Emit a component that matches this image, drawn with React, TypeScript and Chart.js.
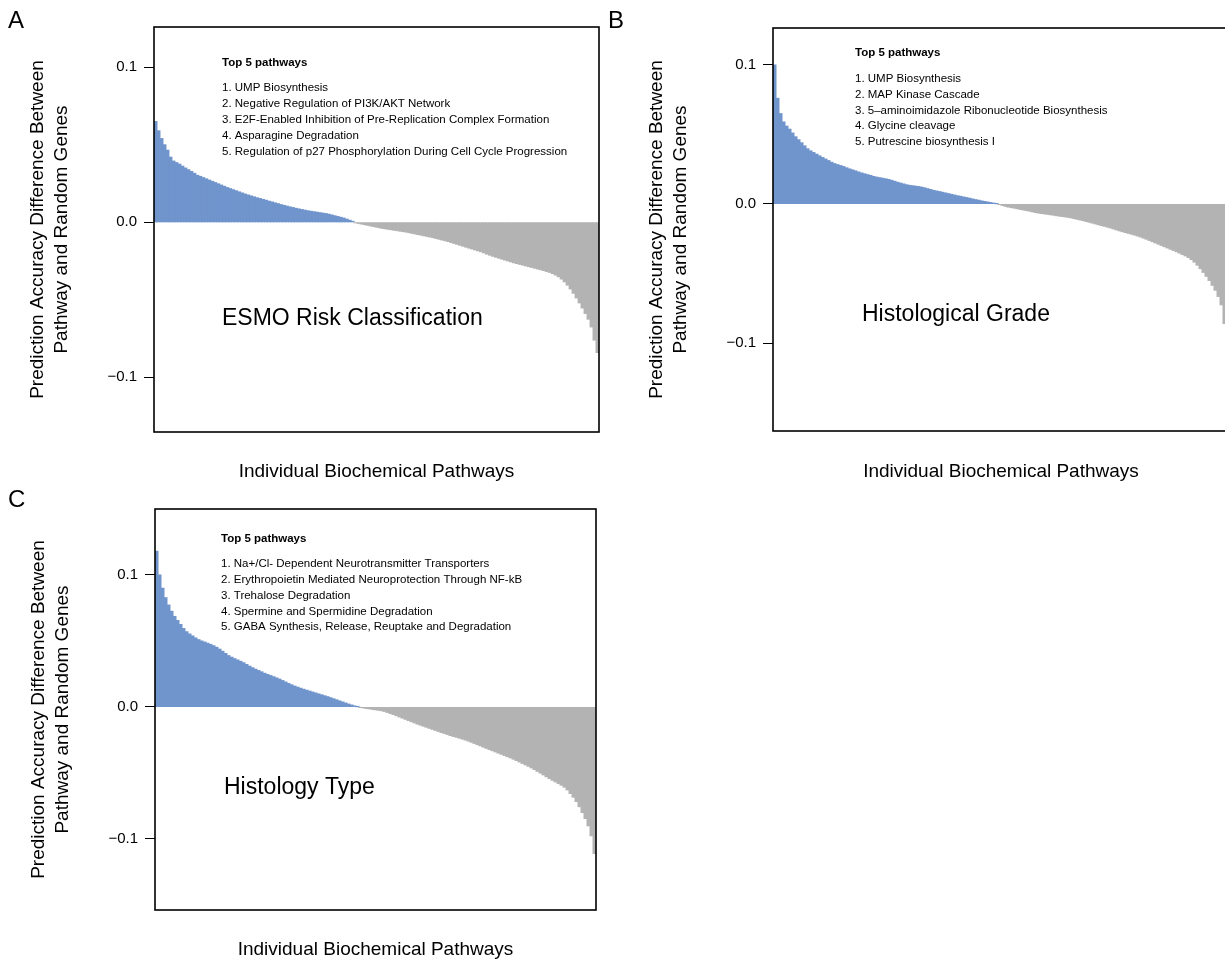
import React, { useEffect, useRef } from "react";
import { Chart, registerables } from "chart.js";

Chart.register(...registerables);

const FONT = '"Liberation Sans", Arial, Helvetica, sans-serif';
const BLUE = "#7094cc";
const GRAY = "#b3b3b3";

const Y_TITLE = ["Prediction Accuracy Difference Between", "Pathway and Random Genes"];
const X_TITLE = "Individual Biochemical Pathways";
const TOP_HEADER = "Top 5 pathways";
const TICK_VALUES = [-0.1, 0, 0.1];

// Panel A
const ESMO_TITLE = "ESMO Risk Classification";
const ESMO_TOP5 = [
  "UMP Biosynthesis",
  "Negative Regulation of PI3K/AKT Network",
  "E2F-Enabled Inhibition of Pre-Replication Complex Formation",
  "Asparagine Degradation",
  "Regulation of p27 Phosphorylation During Cell Cycle Progression",
];
const ESMO_VALUES = [
  0.065, 0.059, 0.054, 0.05, 0.0465, 0.042, 0.0395, 0.0385, 0.0375, 0.0362,
  0.035, 0.0339, 0.0328, 0.0316, 0.0303, 0.0296, 0.0288, 0.028, 0.0272, 0.0264,
  0.0256, 0.0248, 0.024, 0.0232, 0.0224, 0.0217, 0.021, 0.0203, 0.0196, 0.0189,
  0.0182, 0.0176, 0.017, 0.0164, 0.0158, 0.0153, 0.0147, 0.0142, 0.0136, 0.0131,
  0.0125, 0.012, 0.0114, 0.0109, 0.0104, 0.0099, 0.0095, 0.009, 0.0086, 0.0082,
  0.0078, 0.0074, 0.0071, 0.0068, 0.0065, 0.0062, 0.0059, 0.0056, 0.0052, 0.0047,
  0.0042, 0.0037, 0.0032, 0.0027, 0.002, 0.0013, 0.0006,
  -0.0003, -0.0007, -0.0011, -0.0015, -0.0019, -0.0023, -0.0027, -0.0031, -0.0035, -0.0039,
  -0.0042, -0.0045, -0.0048, -0.0051, -0.0054, -0.0057, -0.006, -0.0063, -0.0067, -0.0071,
  -0.0075, -0.0079, -0.0083, -0.0087, -0.0091, -0.0095, -0.0099, -0.0104, -0.0109, -0.0114,
  -0.0119, -0.0124, -0.013, -0.0136, -0.0142, -0.0148, -0.0154, -0.016, -0.0166, -0.0172,
  -0.0178, -0.0184, -0.019, -0.0197, -0.0205, -0.0212, -0.0219, -0.0225, -0.0231, -0.0237,
  -0.0243, -0.0249, -0.0255, -0.0261, -0.0266, -0.0271, -0.0276, -0.0281, -0.0286, -0.0291,
  -0.0296, -0.0301, -0.0306, -0.0311, -0.0317, -0.0323, -0.0331, -0.034, -0.0351, -0.0366,
  -0.0384, -0.0405, -0.043, -0.0458, -0.0488, -0.052, -0.0553, -0.0588, -0.0625, -0.0675,
  -0.076, -0.084,
];

// Panel B
const GRADE_TITLE = "Histological Grade";
const GRADE_TOP5 = [
  "UMP Biosynthesis",
  "MAP Kinase Cascade",
  "5\u2013aminoimidazole Ribonucleotide Biosynthesis",
  "Glycine cleavage",
  "Putrescine biosynthesis I",
];
const GRADE_VALUES = [
  0.1, 0.076, 0.065, 0.059, 0.056, 0.0538, 0.051, 0.0483, 0.0462, 0.044,
  0.0418, 0.0397, 0.0382, 0.037, 0.0358, 0.0346, 0.0334, 0.0323, 0.0312, 0.03,
  0.029, 0.0283, 0.0276, 0.0269, 0.026, 0.0252, 0.0245, 0.0238, 0.023, 0.0223,
  0.0217, 0.0211, 0.0205, 0.0198, 0.0193, 0.0189, 0.0185, 0.0181, 0.0176, 0.017,
  0.0163, 0.0156, 0.015, 0.0144, 0.0138, 0.0134, 0.0131, 0.0128, 0.0125, 0.0121,
  0.0116, 0.011, 0.0104, 0.0098, 0.0093, 0.0089, 0.0084, 0.0079, 0.0074, 0.0069,
  0.0064, 0.0059, 0.0055, 0.005, 0.0046, 0.0041, 0.0036, 0.0031, 0.0027, 0.0022,
  0.0018, 0.0014, 0.001, 0.0006, 0.0002,
  -0.0004, -0.001, -0.0017, -0.0022, -0.0026, -0.003, -0.0034, -0.0039, -0.0043, -0.0047,
  -0.0051, -0.0056, -0.0061, -0.0065, -0.0068, -0.0071, -0.0074, -0.0077, -0.008, -0.0084,
  -0.0087, -0.009, -0.0093, -0.0096, -0.01, -0.0105, -0.011, -0.0115, -0.012, -0.0126,
  -0.0131, -0.0137, -0.0143, -0.0149, -0.0155, -0.016, -0.0166, -0.0172, -0.0179, -0.0186,
  -0.0193, -0.0199, -0.0205, -0.0211, -0.0217, -0.0223, -0.023, -0.0237, -0.0245, -0.0253,
  -0.0262, -0.0271, -0.028, -0.0289, -0.0298, -0.0307, -0.0316, -0.0325, -0.0334, -0.0343,
  -0.0353, -0.0363, -0.0373, -0.0385, -0.04, -0.0418, -0.044, -0.0465, -0.0492, -0.052,
  -0.055, -0.0585, -0.062, -0.0665, -0.0725, -0.086, -0.105,
];

// Panel C
const TYPE_TITLE = "Histology Type";
const TYPE_TOP5 = [
  "Na+/Cl- Dependent Neurotransmitter Transporters",
  "Erythropoietin Mediated Neuroprotection Through NF-kB",
  "Trehalose Degradation",
  "Spermine and Spermidine Degradation",
  "GABA Synthesis, Release, Reuptake and Degradation",
];
const TYPE_VALUES = [
  0.118, 0.1, 0.09, 0.0828, 0.0772, 0.0725, 0.0686, 0.0655, 0.0625, 0.0594,
  0.057, 0.0553, 0.0538, 0.0523, 0.051, 0.05, 0.0492, 0.0483, 0.0474, 0.0464,
  0.0452, 0.0438, 0.0422, 0.0405, 0.0389, 0.0377, 0.0366, 0.0356, 0.0346, 0.0335,
  0.0322, 0.0309, 0.0297, 0.0286, 0.0276, 0.0266, 0.0255, 0.0246, 0.0238, 0.0229,
  0.022, 0.0211, 0.02, 0.0189, 0.0178, 0.0168, 0.0158, 0.015, 0.0142, 0.0134,
  0.0127, 0.012, 0.0113, 0.0106, 0.0099, 0.0092, 0.0085, 0.0078, 0.007, 0.0062,
  0.0054, 0.0046, 0.0038, 0.003, 0.0022, 0.0015, 0.0008, 0.0002,
  -0.0003, -0.0007, -0.0011, -0.0014, -0.0018, -0.0021, -0.0024, -0.0028, -0.0033, -0.0041,
  -0.0049, -0.0057, -0.0066, -0.0075, -0.0084, -0.0093, -0.0102, -0.0111, -0.012, -0.0129,
  -0.0137, -0.0145, -0.0153, -0.0161, -0.0169, -0.0177, -0.0185, -0.0193, -0.02, -0.0208,
  -0.0216, -0.0223, -0.0229, -0.0236, -0.0243, -0.025, -0.0258, -0.0267, -0.0276, -0.0285,
  -0.0294, -0.0304, -0.0313, -0.0322, -0.0331, -0.034, -0.0349, -0.0358, -0.0367, -0.0376,
  -0.0385, -0.0395, -0.0405, -0.0416, -0.0427, -0.0438, -0.0449, -0.0461, -0.0474, -0.0487,
  -0.05, -0.0514, -0.0528, -0.0542, -0.0555, -0.0567, -0.0579, -0.0592, -0.0607, -0.0628,
  -0.0655, -0.0683, -0.0716, -0.0755, -0.08, -0.0845, -0.09, -0.0975, -0.111,
];

// Layout (page pixel coordinates)
const CW = 1260;
const CH = 964;
const Y_AXIS_W = 154;
const X_AXIS_H = 60;

type PanelCfg = {
  letter: string;
  values: number[];
  title: string;
  top5: string[];
  box: { l: number; t: number; r: number; b: number };
  yMin: number;
  yMax: number;
  letterPos: [number, number];
  textX: number;
  headerY: number;
  itemsY: number;
  itemStep: number;
  bigPos: [number, number];
  xTitleY: number;
};

const PANELS: PanelCfg[] = [
  {
    letter: "A", values: ESMO_VALUES, title: ESMO_TITLE, top5: ESMO_TOP5,
    box: { l: 154, t: 27, r: 599, b: 432 }, yMin: -0.1353, yMax: 0.126,
    letterPos: [8, 28], textX: 222, headerY: 63, itemsY: 88.3, itemStep: 15.85,
    bigPos: [222, 319], xTitleY: 472,
  },
  {
    letter: "B", values: GRADE_VALUES, title: GRADE_TITLE, top5: GRADE_TOP5,
    box: { l: 773, t: 28, r: 1229, b: 431 }, yMin: -0.1633, yMax: 0.1266,
    letterPos: [608, 28], textX: 855, headerY: 53.3, itemsY: 79.3, itemStep: 15.6,
    bigPos: [862, 315], xTitleY: 472,
  },
  {
    letter: "C", values: TYPE_VALUES, title: TYPE_TITLE, top5: TYPE_TOP5,
    box: { l: 155, t: 509, r: 596, b: 910 }, yMin: -0.1538, yMax: 0.15,
    letterPos: [8, 507], textX: 221, headerY: 538.5, itemsY: 564, itemStep: 15.8,
    bigPos: [224, 788], xTitleY: 950,
  },
];

const annotPlugin = {
  id: "annot",
  afterDraw(chart: any, _args: any, opts: any) {
    const { ctx, chartArea } = chart;
    const p: PanelCfg = opts.panel;
    ctx.save();
    ctx.lineWidth = 1.6;
    ctx.strokeStyle = "#000";
    ctx.strokeRect(chartArea.left, chartArea.top, chartArea.right - chartArea.left, chartArea.bottom - chartArea.top);
    ctx.fillStyle = "#000";
    ctx.textAlign = "left";
    ctx.textBaseline = "alphabetic";
    ctx.font = `24px ${FONT}`;
    ctx.fillText(p.letter, p.letterPos[0], p.letterPos[1]);
    ctx.textBaseline = "middle";
    ctx.font = `bold 11.5px ${FONT}`;
    ctx.fillText(TOP_HEADER, p.textX, p.headerY);
    ctx.font = `11.5px ${FONT}`;
    p.top5.forEach((t, i) => ctx.fillText(`${i + 1}. ${t}`, p.textX, p.itemsY + i * p.itemStep));
    ctx.font = `23px ${FONT}`;
    ctx.fillText(p.title, p.bigPos[0], p.bigPos[1]);
    ctx.restore();
  },
};

function fmtTick(v: number) {
  if (Math.abs(v) < 1e-9) return "0.0";
  return (v < 0 ? "\u2212" : "") + Math.abs(v).toFixed(1);
}

function Panel({ p }: { p: PanelCfg }) {
  const ref = useRef<HTMLCanvasElement>(null);
  useEffect(() => {
    const titleLH = 1.26;
    const chart = new Chart(ref.current as HTMLCanvasElement, {
      type: "bar",
      data: {
        labels: p.values.map((_, i) => String(i + 1)),
        datasets: [
          {
            data: p.values,
            backgroundColor: (c: any) => ((c.raw as number) >= 0 ? BLUE : GRAY),
            borderWidth: 0,
            barPercentage: 1,
            categoryPercentage: 1,
            inflateAmount: 0.5,
          } as any,
        ],
      },
      options: {
        animation: false,
        responsive: false,
        devicePixelRatio: 1,
        events: [],
        layout: {
          padding: {
            left: p.box.l - Y_AXIS_W,
            top: p.box.t,
            right: CW - p.box.r,
            bottom: CH - p.box.b - X_AXIS_H,
          },
        },
        plugins: {
          legend: { display: false },
          tooltip: { enabled: false },
          annot: { panel: p },
        } as any,
        scales: {
          x: {
            display: true,
            grid: { display: false },
            border: { display: false },
            ticks: { display: false },
            title: {
              display: true,
              text: X_TITLE,
              color: "#000",
              font: { family: FONT, size: 19 },
              padding: { top: 0, bottom: p.box.b + X_AXIS_H - p.xTitleY - 11.4 },
            },
            afterFit: (s: any) => {
              s.height = X_AXIS_H;
            },
          },
          y: {
            min: p.yMin,
            max: p.yMax,
            border: { display: false },
            grid: {
              display: true,
              drawOnChartArea: false,
              drawTicks: true,
              tickLength: 10,
              color: "#000",
              lineWidth: 1,
            },
            ticks: {
              color: "#000",
              padding: 7,
              font: { family: FONT, size: 15 },
              callback: (v: any) => fmtTick(Number(v)),
            },
            afterBuildTicks: (s: any) => {
              s.ticks = TICK_VALUES.map((v) => ({ value: v }));
            },
            title: {
              display: true,
              text: Y_TITLE,
              color: "#000",
              font: { family: FONT, size: 19, lineHeight: titleLH },
              padding: { top: 38 - (19 * titleLH) / 2, bottom: 0 },
            },
            afterFit: (s: any) => {
              s.width = Y_AXIS_W;
            },
          },
        },
      },
      plugins: [annotPlugin as any],
    });
    return () => chart.destroy();
  }, [p]);
  return (
    <canvas
      ref={ref}
      width={CW}
      height={CH}
      style={{ position: "absolute", left: 0, top: 0, width: CW, height: CH }}
    />
  );
}

export default function App() {
  return (
    <div
      style={{
        position: "absolute",
        left: 0,
        top: 0,
        width: 1225,
        height: 964,
        overflow: "hidden",
        background: "#fff",
      }}
    >
      {PANELS.map((p) => (
        <Panel key={p.letter} p={p} />
      ))}
    </div>
  );
}
